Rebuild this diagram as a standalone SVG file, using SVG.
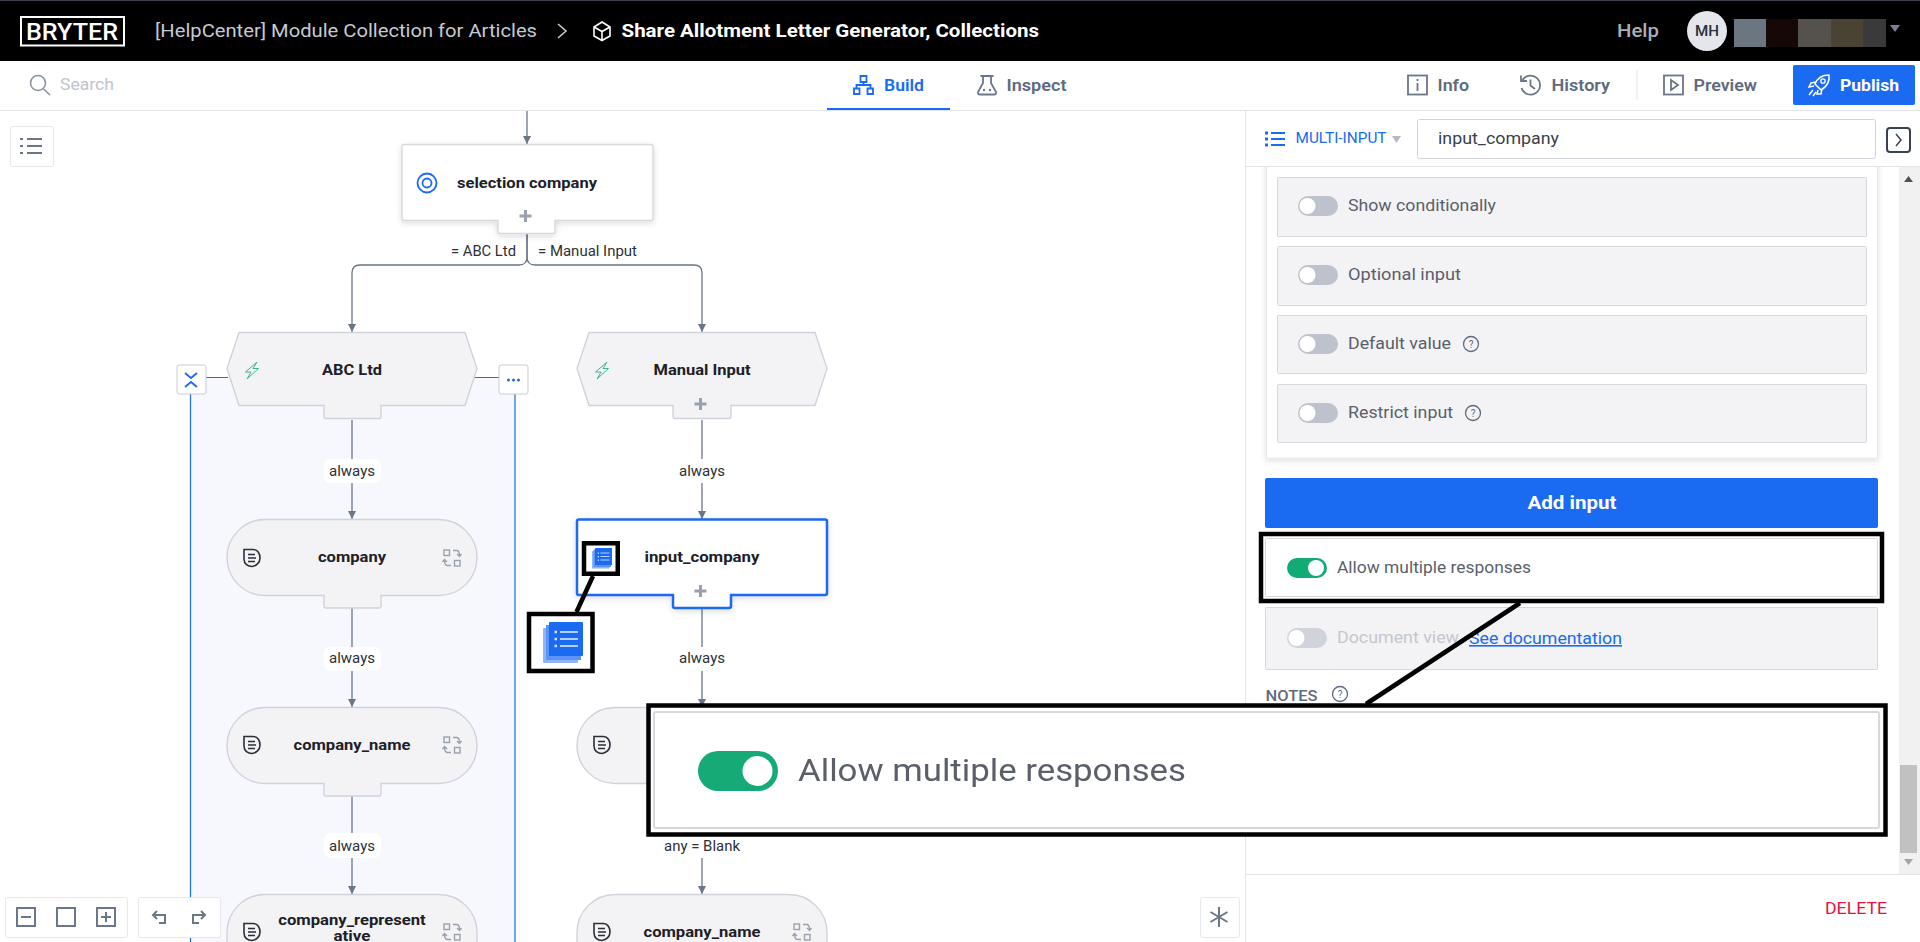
<svg xmlns="http://www.w3.org/2000/svg" width="1920" height="942" viewBox="0 0 1920 942">
<style>
text{font-family:"Roboto","Liberation Sans",sans-serif;}
.nav{font-size:16px;font-weight:600;fill:#5f6b7d}
.lab{font-size:14px;fill:#2c3038;text-anchor:middle}
.nt{font-size:15px;font-weight:700;fill:#1d2026;text-anchor:middle}
.nts{font-size:14px}
.rowt{font-size:16px;fill:#5a5f6b}
.q{font-size:10px;fill:#5f6b7d;text-anchor:middle}
.row{fill:#f3f3f5;stroke:#d5d8dd;stroke-width:1}
.node{fill:#f3f3f5;stroke:#d0d3da;stroke-width:1.4}
.wnode{fill:#fff;stroke:#d5d8dd;stroke-width:1.4}
.plus{stroke:#9aa1ad;stroke-width:3;fill:none}
.conn{stroke:#6b7688;stroke-width:1.3;fill:none}
.ic{stroke:#6b7688;stroke-width:1.8;fill:none}
.bic{stroke:#1a6af2;stroke-width:1.8;fill:none}
.tool{fill:#fff;stroke:#e6e8ec;stroke-width:1}
.tic{stroke:#6b7688;stroke-width:2;fill:none}
.hl{fill:none;stroke:#000;stroke-width:4.5}
.lbg{fill:#fff}
.qc{fill:none;stroke:#5f6b7d;stroke-width:1.3}
</style>
<defs>
<marker id="arrow" markerUnits="userSpaceOnUse" markerWidth="9" markerHeight="9" refX="8" refY="4" orient="auto">
<path d="M0,0 L8,4 L0,8 Z" fill="#6b7688"/>
</marker>
<filter id="sh" x="-10%" y="-10%" width="120%" height="130%"><feDropShadow dx="0" dy="2" stdDeviation="3" flood-color="#000" flood-opacity=".14"/></filter>
<filter id="soft" x="-2%" y="-10%" width="104%" height="120%"><feGaussianBlur stdDeviation=".6"/></filter>
<g id="doc"><path d="M-8,-8.500 H1 C6,-8.500 8,-4 8,0 C8,5 4,8 0,8.500 C-4,8.500 -8,6 -8,1 Z" fill="none" stroke="#2a2f3a" stroke-width="1.600"/><path d="M-4,-3.500 H3 M-4,0 H4 M-4,3.500 H3" stroke="#2a2f3a" stroke-width="1.500" fill="none"/></g>
<g id="swap"><rect x="-8" y="-8" width="5.500" height="5.500" fill="none" stroke="#9aa1ad" stroke-width="1.400"/><rect x="2.500" y="2.500" width="5.500" height="5.500" fill="none" stroke="#9aa1ad" stroke-width="1.400"/><path d="M1,-7.500 H5 Q7.500,-7 7.500,-2 M5,-4 L7.500,-1.500 L9.500,-4 M-1,7.500 H-5 Q-7.500,7 -7.500,2 M-5,4 L-7.500,1.500 L-9.500,4" fill="none" stroke="#9aa1ad" stroke-width="1.400"/></g>
<path id="bolt" d="M5,-8.500 L-6.500,1.500 H-1 L-5,8.500 L6.500,-2 H1 Z" fill="none" stroke="#3db58c" stroke-width="1"/>
<g id="book"><rect x="0" y="6" width="35" height="35" rx="1" fill="#8fb4f8"/><rect x="3" y="3" width="35" height="35" fill="#5b93f6"/><rect x="6" y="0" width="34" height="34" rx="1" fill="#1a6af2"/><path d="M17,10 H35 M17,17 H35 M17,24 H35" stroke="#b5d0fb" stroke-width="2.200"/><path d="M11.500,10 H14 M11.500,17 H14 M11.500,24 H14" stroke="#d5e4fd" stroke-width="2.500"/></g>
</defs>
<rect width="1920" height="942" fill="#fff"/>

<g id="group-area">
<path d="M190.500,942 V378 H515 V942 Z" fill="#f7f8fd"/>
<path d="M190.500,942 V394 M206,377.500 H228 M465,377.500 H499 M515,394 V942" fill="none" stroke="#1a6af2" stroke-width="1.200"/>
</g>

<g id="connectors">
<path class="conn" marker-end="url(#arrow)" d="M527,111 V144"/>
<path class="conn" d="M527,233 V257 Q527,265 519,265 H360 Q352,265 352,273 V332" marker-end="url(#arrow)"/>
<path class="conn" d="M527,233 V257 Q527,265 535,265 H694 Q702,265 702,273 V332" marker-end="url(#arrow)"/>
<path class="conn" d="M352,420 V519" marker-end="url(#arrow)"/>
<path class="conn" d="M352,608 V707" marker-end="url(#arrow)"/>
<path class="conn" d="M352,796 V894" marker-end="url(#arrow)"/>
<path class="conn" d="M702,420 V519" marker-end="url(#arrow)"/>
<path class="conn" d="M702,608 V707" marker-end="url(#arrow)"/>
<path class="conn" d="M702,858 V894" marker-end="url(#arrow)"/>
<text class="lab" x="483.500" y="256" textLength="65" lengthAdjust="spacingAndGlyphs">= ABC Ltd</text>
<text class="lab" x="587.500" y="256" textLength="99" lengthAdjust="spacingAndGlyphs">= Manual Input</text>
<rect class="lbg" x="323.500" y="459" width="57.500" height="24" rx="7"/><text class="lab" x="352" y="476" textLength="46" lengthAdjust="spacingAndGlyphs">always</text>
<rect class="lbg" x="323.500" y="647" width="57.500" height="24" rx="7"/><text class="lab" x="352" y="663" textLength="46" lengthAdjust="spacingAndGlyphs">always</text>
<rect class="lbg" x="323.500" y="833" width="57.500" height="25" rx="7"/><text class="lab" x="352" y="851" textLength="46" lengthAdjust="spacingAndGlyphs">always</text>
<rect class="lbg" x="673.500" y="459" width="57.500" height="24"/><text class="lab" x="702" y="476" textLength="46" lengthAdjust="spacingAndGlyphs">always</text>
<rect class="lbg" x="673.500" y="647" width="57.500" height="24"/><text class="lab" x="702" y="663" textLength="46" lengthAdjust="spacingAndGlyphs">always</text>
<text class="lab" x="702" y="851" textLength="76" lengthAdjust="spacingAndGlyphs">any = Blank</text>
</g>

<g id="node-selection-company">
<path class="wnode" filter="url(#sh)" transform="translate(0,.5)" d="M404,144 H651 Q653,144 653,146 V218 Q653,220 651,220 H555 V231 Q555,233 553,233 H500 Q498,233 498,231 V220 H404 Q402,220 402,218 V146 Q402,144 404,144Z"/>
<circle cx="427" cy="183" r="9.500" fill="none" stroke="#1a6af2" stroke-width="1.800"/><circle cx="427" cy="183" r="4.500" fill="none" stroke="#1a6af2" stroke-width="1.800"/>
<text class="nt" x="527" y="187.500" textLength="140" lengthAdjust="spacingAndGlyphs">selection company</text>
<path class="plus" d="M525.500,210 V222 M519.500,216 H531.500"/>
</g>

<g id="node-abc-ltd">
<path class="node" transform="translate(0,.5)" d="M239,332 H465 L477,368 L465,405 H381 V416 Q381,418 379,418 H326 Q324,418 324,416 V405 H239 L227,368 Z"/>
<use href="#bolt" x="252" y="370.500"/>
<text class="nt" x="352" y="375" textLength="60" lengthAdjust="spacingAndGlyphs">ABC Ltd</text>
</g>
<g id="btn-collapse">
<rect x="177" y="365" width="29" height="29" rx="2" fill="#fff" stroke="#c8ccd4"/>
<path class="bic" d="M185,373 L191,378 L197,373 M185,387 L191,382 L197,387"/>
</g>
<g id="btn-more">
<rect x="499" y="365" width="29" height="29" rx="2" fill="#fff" stroke="#c8ccd4"/>
<circle cx="508.500" cy="380" r="1.500" fill="#1a6af2"/><circle cx="513.500" cy="380" r="1.500" fill="#1a6af2"/><circle cx="518.500" cy="380" r="1.500" fill="#1a6af2"/>
</g>

<g id="node-manual-input">
<path class="node" transform="translate(0,.5)" d="M589,332 H815 L827,368 L815,405 H731 V416 Q731,418 729,418 H675 Q673,418 673,416 V405 H589 L577,368 Z"/>
<use href="#bolt" x="602" y="370.500"/>
<text class="nt" x="702" y="375" textLength="97" lengthAdjust="spacingAndGlyphs">Manual Input</text>
<path class="plus" d="M700.500,398 V410 M694.500,404 H706.500"/>
</g>

<g id="node-company">
<path class="node" d="M265,519.500 H439 A38,38 0 0 1 439,595.500 H381 V606 Q381,608 379,608 H326 Q324,608 324,606 V595.500 H265 A38,38 0 0 1 265,519.500Z"/>
<use href="#doc" x="252" y="558"/><use href="#swap" x="452" y="558"/>
<text class="nt" x="352" y="562" textLength="68" lengthAdjust="spacingAndGlyphs">company</text>
</g>

<g id="node-company-name">
<path class="node" d="M265,707.500 H439 A38,38 0 0 1 439,783.500 H381 V794 Q381,796 379,796 H326 Q324,796 324,794 V783.500 H265 A38,38 0 0 1 265,707.500Z"/>
<use href="#doc" x="252" y="745"/><use href="#swap" x="452" y="745"/>
<text class="nt" x="352" y="750" textLength="117" lengthAdjust="spacingAndGlyphs">company_name</text>
</g>

<g id="node-company-representative">
<path class="node" d="M265,894.500 H439 A38,38 0 0 1 477,932.500 V960 H227 V932.500 A38,38 0 0 1 265,894.500Z"/>
<use href="#doc" x="252" y="932"/><use href="#swap" x="452" y="932"/>
<text class="nt nts" x="352" y="925" textLength="147.500" lengthAdjust="spacingAndGlyphs">company_represent</text>
<text class="nt nts" x="352" y="941" textLength="37" lengthAdjust="spacingAndGlyphs">ative</text>
</g>

<g id="node-input-company">
<path fill="#fff" stroke="#1a6af2" stroke-width="2.500" filter="url(#sh)" d="M579,519.500 H825 Q827,519.500 827,521.500 V593 Q827,595 825,595 H731 V606 Q731,608 729,608 H675 Q673,608 673,606 V595 H579 Q577,595 577,593 V521.500 Q577,519.500 579,519.500Z"/>
<use href="#book" transform="translate(592,548) scale(.5)"/>
<text class="nt" x="702" y="562" textLength="115" lengthAdjust="spacingAndGlyphs">input_company</text>
<path class="plus" d="M700.500,585 V597 M694.500,591 H706.500"/>
</g>

<g id="node-hidden">
<path class="node" d="M615,707.500 H789 A38,38 0 0 1 789,783.500 H731 V794 Q731,796 729,796 H675 Q673,796 673,794 V783.500 H615 A38,38 0 0 1 615,707.500Z"/>
<use href="#doc" x="602" y="745"/>
</g>

<g id="node-company-name-2">
<path class="node" d="M615,894.500 H789 A38,38 0 0 1 827,932.500 V960 H577 V932.500 A38,38 0 0 1 615,894.500Z"/>
<use href="#doc" x="602" y="932"/><use href="#swap" x="802" y="932"/>
<text class="nt" x="702" y="937" textLength="117" lengthAdjust="spacingAndGlyphs">company_name</text>
</g>

<g id="canvas-tools">
<rect class="tool" x="10.500" y="126.500" width="43" height="40" rx="2"/>
<path class="tic" d="M27,139 H42 M27,146 H42 M27,153 H42 M20,139 H23 M20,146 H23 M20,153 H23"/>
<rect class="tool" x="5.500" y="897.500" width="122" height="40" rx="2"/>
<rect class="tic" x="17" y="908" width="18" height="18"/><path class="tic" d="M21,917 H31"/>
<rect class="tic" x="57" y="908" width="18" height="18"/>
<rect class="tic" x="97" y="908" width="18" height="18"/><path class="tic" d="M101,917 H111 M106,912 V922"/>
<rect class="tool" x="138.500" y="897.500" width="82" height="40" rx="2"/>
<path class="tic" stroke-width="1.800" d="M159,923 H165 V915 H153 M157,911 L153,915 L157,919"/>
<path class="tic" stroke-width="1.800" d="M199,923 H193 V915 H205 M201,911 L205,915 L201,919"/>
<rect class="tool" x="1200.500" y="897.500" width="39" height="40" rx="2"/>
<path class="tic" stroke-width="2.400" d="M1219,907 V927 M1210.500,912 L1227.500,922 M1227.500,912 L1210.500,922"/>
</g>

<g id="side-panel">
<rect x="1245" y="111" width="675" height="831" fill="#fff"/>
<rect x="1899" y="167" width="21" height="707" fill="#f1f1f1"/>
<path d="M1904,182 H1913 L1908.500,176Z" fill="#505050"/>
<rect x="1900" y="765" width="17" height="88" fill="#c1c1c1"/>
<path d="M1904,859 H1913 L1908.500,865Z" fill="#a3a3a3"/>
<rect x="1266.500" y="150" width="611" height="308" fill="#fff" stroke="#e6e8ec" filter="url(#sh)"/>
<rect x="1246" y="111" width="674" height="55" fill="#fff"/>
<path d="M1245.500,111 V942 M1245,166.500 H1920 M1245,874.500 H1920" stroke="#e2e4ea" fill="none"/>
<path d="M1265,133 H1268 M1265,139 H1268 M1265,145 H1268" stroke="#1a6af2" stroke-width="3" fill="none"/>
<path d="M1271,133 H1285 M1271,139 H1285 M1271,145 H1285" stroke="#1a6af2" stroke-width="2" fill="none"/>
<text x="1295.500" y="143" font-size="14" fill="#1a6af2" textLength="91" lengthAdjust="spacingAndGlyphs">MULTI-INPUT</text>
<path d="M1392,136 H1401 L1396.500,143Z" fill="#b5bac4"/>
<rect x="1417.500" y="119.500" width="458" height="39" rx="2" fill="#fff" stroke="#d0d3da"/>
<text x="1438" y="144" font-size="16" fill="#3a3f4a" textLength="121" lengthAdjust="spacingAndGlyphs">input_company</text>
<rect x="1887" y="128" width="23" height="24" rx="3" fill="#fff" stroke="#3a4252" stroke-width="2"/>
<path d="M1896,134 L1901,140 L1896,146" fill="none" stroke="#3a4252" stroke-width="1.500"/>
</g>

<g id="row-show-conditionally">
<rect class="row" x="1277.500" y="177.500" width="589" height="59" rx="1"/>
<rect x="1298" y="196" width="40" height="20" rx="10" fill="#bec2cc"/><circle cx="1307.500" cy="206" r="8" fill="#fff"/>
<text class="rowt" x="1348" y="211" textLength="148" lengthAdjust="spacingAndGlyphs">Show conditionally</text>
</g>
<g id="row-optional-input">
<rect class="row" x="1277.500" y="246.500" width="589" height="59" rx="1"/>
<rect x="1298" y="265" width="40" height="20" rx="10" fill="#bec2cc"/><circle cx="1307.500" cy="275" r="8" fill="#fff"/>
<text class="rowt" x="1348" y="280" textLength="113" lengthAdjust="spacingAndGlyphs">Optional input</text>
</g>
<g id="row-default-value">
<rect class="row" x="1277.500" y="315.500" width="589" height="58" rx="1"/>
<rect x="1298" y="334" width="40" height="20" rx="10" fill="#bec2cc"/><circle cx="1307.500" cy="344" r="8" fill="#fff"/>
<text class="rowt" x="1348" y="349" textLength="103" lengthAdjust="spacingAndGlyphs">Default value</text>
<circle class="qc" cx="1471" cy="344" r="7.500"/><text class="q" x="1471" y="347.500">?</text>
</g>
<g id="row-restrict-input">
<rect class="row" x="1277.500" y="384.500" width="589" height="58" rx="1"/>
<rect x="1298" y="403" width="40" height="20" rx="10" fill="#bec2cc"/><circle cx="1307.500" cy="413" r="8" fill="#fff"/>
<text class="rowt" x="1348" y="418" textLength="105" lengthAdjust="spacingAndGlyphs">Restrict input</text>
<circle class="qc" cx="1473" cy="413" r="7.500"/><text class="q" x="1473" y="416.500">?</text>
</g>

<g id="btn-add-input">
<rect x="1265" y="478" width="613" height="50" rx="2" fill="#1a6af2"/>
<text x="1572" y="509" font-size="18" font-weight="700" fill="#fff" text-anchor="middle" textLength="89" lengthAdjust="spacingAndGlyphs">Add input</text>
</g>

<g id="row-allow-multiple">
<rect x="1265.500" y="538.500" width="612" height="58" rx="1" fill="#fff" stroke="#d5d8dd"/>
<rect x="1287" y="558" width="40" height="20" rx="10" fill="#12ab76"/><circle cx="1316" cy="568" r="8" fill="#fff"/>
<text class="rowt" x="1337" y="573" textLength="194" lengthAdjust="spacingAndGlyphs">Allow multiple responses</text>
</g>

<g id="row-document-view">
<rect class="row" x="1265.500" y="607.500" width="612" height="62" rx="1"/>
<rect x="1287" y="628" width="40" height="20" rx="10" fill="#d0d3da"/><circle cx="1296.500" cy="638" r="8" fill="#fff"/>
<text x="1337" y="643" font-size="16" fill="#c4c7ce" textLength="122" lengthAdjust="spacingAndGlyphs">Document view</text>
<text x="1469" y="644" font-size="16" fill="#1a6af2" text-decoration="underline" textLength="153" lengthAdjust="spacingAndGlyphs">See documentation</text>
</g>

<g id="notes">
<text x="1265.500" y="701" font-size="14" font-weight="500" fill="#5f6b7d" textLength="52" lengthAdjust="spacingAndGlyphs">NOTES</text>
<circle class="qc" cx="1340" cy="694" r="7.500"/><text class="q" x="1340" y="697.500">?</text>
</g>

<g id="btn-delete">
<text x="1825" y="914" font-size="16" fill="#e8103c" textLength="62" lengthAdjust="spacingAndGlyphs">DELETE</text>
</g>

<g id="top-bar">
<rect width="1920" height="61" fill="#000"/>
<rect width="1920" height="1" fill="#3a3f4a"/>
<rect x="21" y="17" width="103" height="28.500" fill="none" stroke="#fff" stroke-width="2"/>
<text x="72" y="39.500" font-size="24" font-weight="500" fill="#fff" text-anchor="middle" textLength="92" lengthAdjust="spacingAndGlyphs">BRYTER</text>
<text x="155" y="37" font-size="18" fill="#c6cad2" textLength="382" lengthAdjust="spacingAndGlyphs">[HelpCenter] Module Collection for Articles</text>
<path d="M558,24 L566,31 L558,38" fill="none" stroke="#c6cad2" stroke-width="1.600"/>
<path d="M602,22 L610,27 V36 L602,40.500 L594,36 V27 Z M594,27 L602,31.500 L610,27 M602,31.500 V40.500" fill="none" stroke="#fff" stroke-width="1.600"/>
<text x="621.500" y="37" font-size="18" font-weight="700" fill="#fff" textLength="417.500" lengthAdjust="spacingAndGlyphs">Share Allotment Letter Generator, Collections</text>
<text x="1617" y="37" font-size="18" font-weight="500" fill="#a9aeb9" textLength="42" lengthAdjust="spacingAndGlyphs">Help</text>
<circle cx="1707" cy="31" r="20" fill="#e4e6ec"/>
<text x="1707" y="36" font-size="14" font-weight="500" fill="#2a2f3a" text-anchor="middle" textLength="24" lengthAdjust="spacingAndGlyphs">MH</text>
<rect x="1734" y="19" width="32" height="28" fill="#6b7680"/>
<rect x="1766" y="19" width="32" height="28" fill="#170808"/>
<rect x="1798" y="19" width="33" height="28" fill="#55514d"/>
<rect x="1831" y="19" width="32" height="28" fill="#4a4232"/>
<rect x="1863" y="19" width="23" height="28" fill="#3a3a3a"/>
<path d="M1890,25 H1900 L1895,32Z" fill="#7a8090"/>
</g>

<g id="tool-bar">
<rect y="61" width="1920" height="49.500" fill="#fff"/>
<path d="M0,110.500 H1920" stroke="#e2e4ea" fill="none"/>
<circle cx="38" cy="83" r="7.500" fill="none" stroke="#8a92a0" stroke-width="1.600"/><path d="M43.500,89 L50,95" stroke="#8a92a0" stroke-width="1.600"/>
<text x="60" y="90" font-size="16" fill="#c0c4cc" textLength="54" lengthAdjust="spacingAndGlyphs">Search</text>
<rect x="827" y="108" width="123" height="2" fill="#1a6af2"/>
<path class="bic" stroke-width="1.800" d="M860.500,76 H866.500 V82 H860.500 Z M854,88.500 H859.500 V94 H854 Z M867.500,88.500 H873 V94 H867.500 Z M863.500,82 V85 M856.500,88.500 V85 H870.500 V88.500"/>
<text x="884" y="91" font-size="16" font-weight="600" fill="#1a6af2" textLength="40" lengthAdjust="spacingAndGlyphs">Build</text>
<path class="ic" d="M980.500,76 H993.500 M983,76 V83 L978,92 Q977.500,94.500 980,94.500 H994 Q996.500,94.500 996,92 L991,83 V76"/>
<circle cx="984" cy="90" r="1.200" fill="#6b7688"/><circle cx="990" cy="90" r="1.200" fill="#6b7688"/>
<text x="1006.500" y="91" class="nav" textLength="60" lengthAdjust="spacingAndGlyphs">Inspect</text>
<rect class="ic" x="1408" y="75.500" width="19" height="19"/><path class="ic" d="M1417.500,79 V81 M1417.500,83 V91"/>
<text x="1437.500" y="91" class="nav" textLength="31.500" lengthAdjust="spacingAndGlyphs">Info</text>
<path class="ic" d="M1522.500,80 A9.500,9.500 0 1 1 1521.500,88 M1521,75.500 V81 H1527 M1530.500,79.500 V85.500 L1535,89"/>
<text x="1551.500" y="91" class="nav" textLength="58.500" lengthAdjust="spacingAndGlyphs">History</text>
<path d="M1637,70 V100" stroke="#e2e4ea" fill="none"/>
<rect class="ic" x="1664" y="75.500" width="19" height="19"/><path class="ic" d="M1671,80 L1678,85 L1671,90 Z"/>
<text x="1693.500" y="91" class="nav" textLength="63.500" lengthAdjust="spacingAndGlyphs">Preview</text>
<rect x="1793" y="65" width="122" height="40" rx="2" fill="#1a6af2"/>
<path d="M1829,75 C1830,82 1826,87 1821,90 L1815,84 C1817,79 1822,75 1829,75 Z M1816,82 L1811,83 L1809,87 L1814,86 M1822,89 L1821,94 L1817,94 L1818,90 M1813,90 L1809,95 M1816,92 L1813,96" fill="none" stroke="#fff" stroke-width="1.500"/>
<circle cx="1823" cy="81" r="2.200" fill="none" stroke="#fff" stroke-width="1.300"/>
<text x="1840" y="91" font-size="16" font-weight="700" fill="#fff" textLength="59" lengthAdjust="spacingAndGlyphs">Publish</text>
</g>

<g id="annotations">
<path d="M593,576 L576.500,612" stroke="#000" stroke-width="4.500" fill="none"/>
<rect class="hl" x="584" y="543.250" width="33.750" height="30.500"/>
<rect x="529" y="614" width="63.500" height="57" fill="#fff"/>
<rect class="hl" x="529" y="614" width="63.500" height="57"/>
<use href="#book" x="543" y="622"/>
<path d="M1520,603 L1366,704" stroke="#000" stroke-width="4.500" fill="none"/>
<rect class="hl" x="1261" y="534" width="621" height="67"/>
<rect x="648.500" y="705.500" width="1237" height="129" fill="#fff"/>
<rect x="654" y="712" width="1225" height="116" rx="2" fill="#fff" stroke="#d5d8dd" stroke-width="2"/>
<rect class="hl" x="648.500" y="705.500" width="1237" height="129"/>
<g filter="url(#soft)">
<rect x="698" y="751" width="80" height="40" rx="20" fill="#12ab76"/><circle cx="757.500" cy="771" r="15" fill="#fff"/>
<text x="798" y="781" font-size="32" fill="#5a5f6b" textLength="388" lengthAdjust="spacingAndGlyphs">Allow multiple responses</text>
</g>
</g>
</svg>
